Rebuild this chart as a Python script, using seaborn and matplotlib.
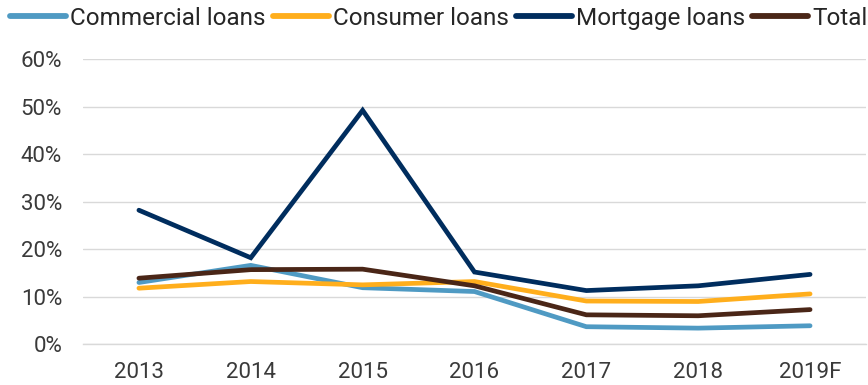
import matplotlib
matplotlib.use("Agg")
import matplotlib.pyplot as plt
from matplotlib import font_manager
import seaborn as sns
import pandas as pd

years = ["2013", "2014", "2015", "2016", "2017", "2018", "2019F"]
commercial = [13.0, 16.6, 11.9, 11.1, 3.7, 3.4, 3.9]
consumer = [11.8, 13.2, 12.5, 13.2, 9.1, 9.0, 10.6]
mortgage = [28.2, 18.2, 49.2, 15.2, 11.3, 12.3, 14.7]
total = [13.9, 15.7, 15.8, 12.3, 6.2, 6.0, 7.3]

series_names = ["Commercial loans", "Consumer loans", "Mortgage loans", "Total"]
series_values = [commercial, consumer, mortgage, total]
colors = ["#4F9AC3", "#FFAE1C", "#002D5E", "#4A2617"]
y_ticks = [0, 10, 20, 30, 40, 50, 60]

rows = []
for name, vals in zip(series_names, series_values):
    for i, (yr, v) in enumerate(zip(years, vals)):
        rows.append({"year": yr, "pos": i, "value": v, "series": name})
df = pd.DataFrame(rows)

sns.set_theme(style="white")
available = {f.name for f in font_manager.fontManager.ttflist}
tick_font = "Roboto" if "Roboto" in available else "DejaVu Sans"
legend_font = "Liberation Sans Narrow" if "Liberation Sans Narrow" in available else tick_font
plt.rcParams["font.family"] = [tick_font, "DejaVu Sans"]

fig = plt.figure(figsize=(8.68, 3.85), dpi=100)
ax = fig.add_axes([0.0956, 0.1057, 0.9021, 0.7411])

sns.lineplot(data=df, x="pos", y="value", hue="series", hue_order=series_names,
             palette=colors, linewidth=3.4, ax=ax, legend=False, sort=False,
             solid_capstyle="round", solid_joinstyle="miter")

ax.set_xlim(-0.5, len(years) - 0.5)
ax.set_ylim(0, 60)
ax.set_yticks(y_ticks)
ax.set_yticklabels([f"{t}%" for t in y_ticks])
ax.set_xticks(range(len(years)))
ax.set_xticklabels(years)
ax.set_xticks([i - 0.5 for i in range(len(years) + 1)], minor=True)
ax.tick_params(axis="x", which="major", length=0, pad=13)
ax.tick_params(axis="x", which="minor", length=7, width=1, color="#d9d9d9")
ax.tick_params(axis="y", length=0, pad=15)
for lab in ax.get_xticklabels() + ax.get_yticklabels():
    lab.set_fontsize(16)
    lab.set_color("#3a3a3a")
ax.set_xlabel("")
ax.set_ylabel("")
ax.grid(axis="y", color="#d9d9d9", linewidth=1)
ax.set_axisbelow(True)
for side in ["top", "right", "left"]:
    ax.spines[side].set_visible(False)
ax.spines["bottom"].set_color("#d9d9d9")
ax.spines["bottom"].set_linewidth(1)

handles = [plt.Line2D([0], [0], color=c, linewidth=4.2, solid_capstyle="round")
           for c in colors]
fig.legend(handles, series_names, loc="center left", bbox_to_anchor=(0.012, 0.952),
           ncol=4, frameon=False, handlelength=2.3, handletextpad=0.16,
           columnspacing=0.3, borderaxespad=0, borderpad=0,
           prop={"family": [legend_font, "DejaVu Sans"], "size": 17.5})

fig.savefig("out.png", dpi=100)
